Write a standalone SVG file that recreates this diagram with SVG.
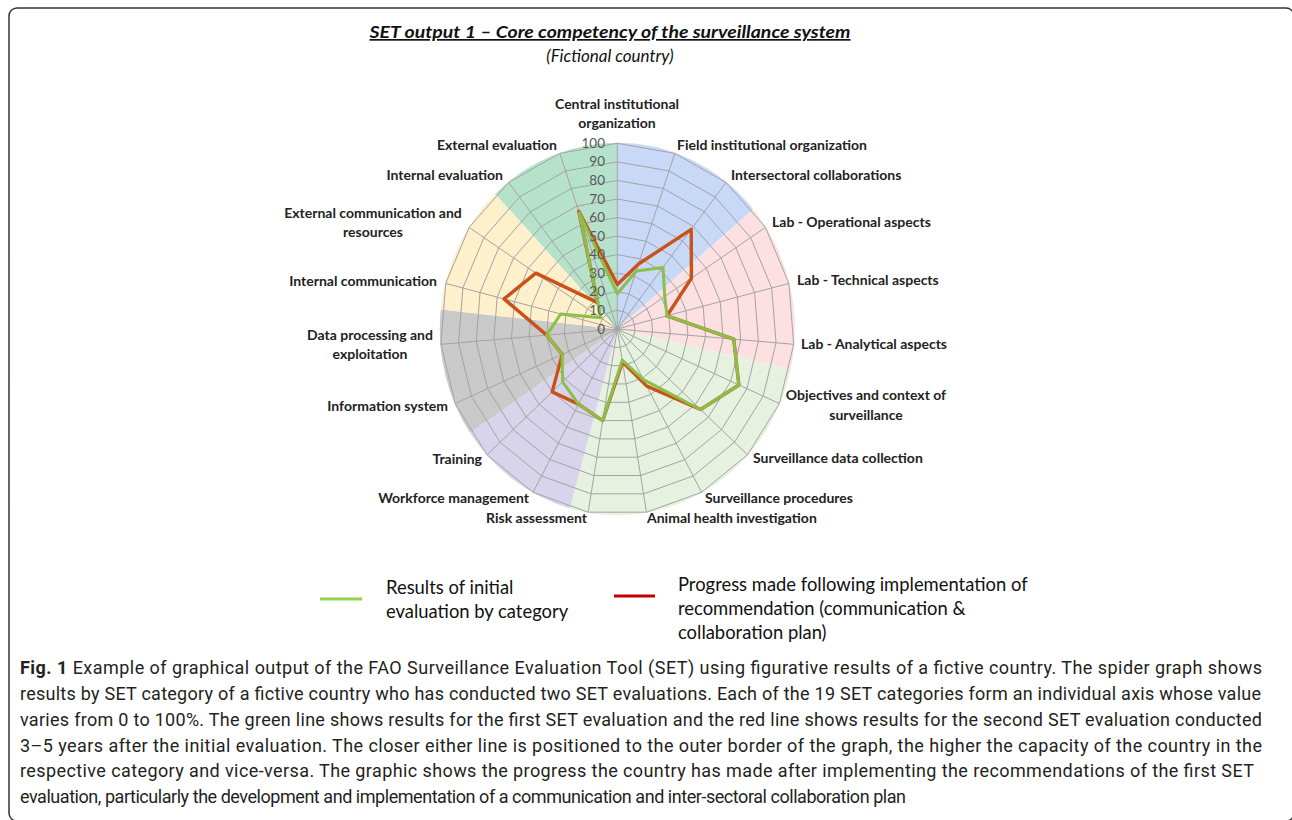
<svg xmlns="http://www.w3.org/2000/svg" width="1292" height="820" viewBox="0 0 1292 820">
<style>
.lbl{font-family:Lato,"Liberation Sans",sans-serif;font-weight:bold;font-size:14px;fill:#222}
.tick{font-family:Lato,"Liberation Sans",sans-serif;font-size:13.5px;fill:#595959;text-anchor:end}
.leg{font-family:Lato,"Liberation Sans",sans-serif;font-size:18.4px;fill:#111}
.cap{font-family:Roboto,"Liberation Sans",sans-serif;font-size:18px;fill:#231f20}
.ring{fill:none;stroke:#a3a3a3;stroke-width:1;vector-effect:non-scaling-stroke}
.grid{fill:none;stroke:#a3a3a3;stroke-width:1}
.ser{fill:none;stroke-linejoin:round;stroke-linecap:round}
</style>
<defs>
<polygon id="ring" class="ring" points="0,-185.7 57.47,-175.64 108.72,-146.54 148.18,-101.57 171.58,-45.59 176.39,15.34 162.09,74.6 130.2,125.8 84.24,163.31 29.13,183.17 -29.13,183.17 -84.24,163.31 -130.2,125.8 -162.09,74.6 -176.39,15.34 -171.58,-45.59 -148.18,-101.57 -108.72,-146.54 -57.47,-175.64"/>
</defs>
<rect x="9" y="8" width="1285" height="813" rx="8" fill="#fff" stroke="#333" stroke-width="1.5"/>
<g id="title">
<text x="610" y="38" text-anchor="middle" font-family="Lato,'Liberation Sans',sans-serif" font-weight="bold" font-style="italic" font-size="17" fill="#111" text-decoration="underline" textLength="481" lengthAdjust="spacingAndGlyphs">SET output 1 – Core competency of the surveillance system</text>
<text x="610" y="62" text-anchor="middle" font-family="Lato,'Liberation Sans',sans-serif" font-style="italic" font-size="17" fill="#111">(Fictional country)</text>
</g>
<g id="chart" transform="translate(617.3,329)">
<g id="sectors">
<path d="M0,0L-122.18,-135.06A177.5,186.2 0 0 1 0,-186.2Z" fill="#b6e2cc"/>
<path d="M0,0L0,-186.2A177.5,186.2 0 0 1 135.97,-119.69Z" fill="#c8d8f7"/>
<path d="M0,0L135.97,-119.69A177.5,186.2 0 0 1 173.29,40.3Z" fill="#fde0e1"/>
<path d="M0,0L173.29,40.3A177.5,186.2 0 0 1 -47.44,179.43Z" fill="#e6f2df"/>
<path d="M0,0L-47.44,179.43A177.5,186.2 0 0 1 -147.15,104.12Z" fill="#d8d4eb"/>
<path d="M0,0L-147.15,104.12A177.5,186.2 0 0 1 -176.53,-19.46Z" fill="#cacaca"/>
<path d="M0,0L-176.53,-19.46A177.5,186.2 0 0 1 -122.18,-135.06Z" fill="#fdf0cb"/>
</g>
<g id="gridlines">
<use href="#ring" transform="scale(0.1)"/>
<use href="#ring" transform="scale(0.2)"/>
<use href="#ring" transform="scale(0.3)"/>
<use href="#ring" transform="scale(0.4)"/>
<use href="#ring" transform="scale(0.5)"/>
<use href="#ring" transform="scale(0.6)"/>
<use href="#ring" transform="scale(0.7)"/>
<use href="#ring" transform="scale(0.8)"/>
<use href="#ring" transform="scale(0.9)"/>
<use href="#ring"/>
<path class="grid" d="M0,0L0,-185.7M0,0L57.47,-175.64M0,0L108.72,-146.54M0,0L148.18,-101.57M0,0L171.58,-45.59M0,0L176.39,15.34M0,0L162.09,74.6M0,0L130.2,125.8M0,0L84.24,163.31M0,0L29.13,183.17M0,0L-29.13,183.17M0,0L-84.24,163.31M0,0L-130.2,125.8M0,0L-162.09,74.6M0,0L-176.39,15.34M0,0L-171.58,-45.59M0,0L-148.18,-101.57M0,0L-108.72,-146.54M0,0L-57.47,-175.64"/>
</g>
<g id="series">
<polygon id="series-progress" class="ser" stroke="#c9521b" stroke-width="3.4" points="0,-44.57 21.26,-64.99 73.93,-99.65 74.09,-50.78 49.76,-13.22 116.42,10.12 121.57,55.95 83.33,80.51 29.49,57.16 5.24,32.97 -14.57,91.58 -38.75,75.13 -65.1,62.9 -55.11,25.36 -70.56,6.13 -113.25,-30.09 -81.5,-55.86 -19.57,-26.38 -38.51,-117.68"/>
<polygon id="series-initial" class="ser" stroke="#8cbf47" stroke-width="3" points="0,-35.28 18.97,-57.96 45.66,-61.55 47.42,-32.5 49.76,-13.22 116.42,10.12 121.57,55.95 83.33,80.51 26.12,50.63 4.95,31.14 -14.57,91.58 -38.75,75.13 -54.68,52.84 -55.11,25.36 -70.56,6.13 -56.62,-15.04 -16.3,-11.17 -19.57,-26.38 -37.93,-115.92"/>
</g>
</g>
<g id="ticks">
<text class="tick" x="605" y="333.5">0</text>
<text class="tick" x="605" y="314.9">10</text>
<text class="tick" x="605" y="296.4">20</text>
<text class="tick" x="605" y="277.8">30</text>
<text class="tick" x="605" y="259.2">40</text>
<text class="tick" x="605" y="240.7">50</text>
<text class="tick" x="605" y="222.1">60</text>
<text class="tick" x="605" y="203.5">70</text>
<text class="tick" x="605" y="184.9">80</text>
<text class="tick" x="605" y="166.4">90</text>
<text class="tick" x="605" y="147.8">100</text>
</g>
<g id="axis-labels">
<g id="lbl-central"><text class="lbl" x="617" y="109" text-anchor="middle">Central institutional</text><text class="lbl" x="617" y="128" text-anchor="middle">organization</text></g>
<g id="lbl-field"><text class="lbl" x="677" y="150">Field institutional organization</text></g>
<g id="lbl-intersectoral"><text class="lbl" x="731" y="180">Intersectoral collaborations</text></g>
<g id="lbl-lab-op"><text class="lbl" x="772" y="227">Lab - Operational aspects</text></g>
<g id="lbl-lab-tech"><text class="lbl" x="797" y="285">Lab - Technical aspects</text></g>
<g id="lbl-lab-anal"><text class="lbl" x="801" y="349">Lab - Analytical aspects</text></g>
<g id="lbl-objectives"><text class="lbl" x="866" y="400" text-anchor="middle">Objectives and context of</text><text class="lbl" x="866" y="420" text-anchor="middle">surveillance</text></g>
<g id="lbl-datacoll"><text class="lbl" x="753" y="463">Surveillance data collection</text></g>
<g id="lbl-procedures"><text class="lbl" x="705" y="503">Surveillance procedures</text></g>
<g id="lbl-animal"><text class="lbl" x="647" y="523">Animal health investigation</text></g>
<g id="lbl-risk"><text class="lbl" x="587" y="523" text-anchor="end">Risk assessment</text></g>
<g id="lbl-workforce"><text class="lbl" x="529" y="503" text-anchor="end">Workforce management</text></g>
<g id="lbl-training"><text class="lbl" x="482" y="464" text-anchor="end">Training</text></g>
<g id="lbl-infosys"><text class="lbl" x="448" y="411" text-anchor="end">Information system</text></g>
<g id="lbl-dataproc"><text class="lbl" x="370" y="340" text-anchor="middle">Data processing and</text><text class="lbl" x="370" y="359" text-anchor="middle">exploitation</text></g>
<g id="lbl-intcomm"><text class="lbl" x="437" y="286" text-anchor="end">Internal communication</text></g>
<g id="lbl-extcomm"><text class="lbl" x="373" y="218" text-anchor="middle">External communication and</text><text class="lbl" x="373" y="237" text-anchor="middle">resources</text></g>
<g id="lbl-inteval"><text class="lbl" x="503" y="180" text-anchor="end">Internal evaluation</text></g>
<g id="lbl-exteval"><text class="lbl" x="557" y="150" text-anchor="end">External evaluation</text></g>
</g>
<g id="legend">
<g id="legend-initial">
<line x1="320" y1="599" x2="362" y2="599" stroke="#92d050" stroke-width="3"/>
<text class="leg" x="386" y="594">Results of initial</text>
<text class="leg" x="386" y="618">evaluation by category</text>
</g>
<g id="legend-progress">
<line x1="614" y1="596" x2="655" y2="596" stroke="#c00000" stroke-width="3"/>
<text class="leg" x="678" y="591">Progress made following implementation of</text>
<text class="leg" x="678" y="615">recommendation (communication &amp;</text>
<text class="leg" x="678" y="639">collaboration plan)</text>
</g>
</g>
<g id="caption">
<text class="cap" x="20" y="674" textLength="1242" lengthAdjust="spacing"><tspan font-weight="bold">Fig. 1</tspan> Example of graphical output of the FAO Surveillance Evaluation Tool (SET) using figurative results of a fictive country. The spider graph shows</text>
<text class="cap" x="20" y="700" textLength="1241" lengthAdjust="spacing">results by SET category of a fictive country who has conducted two SET evaluations. Each of the 19 SET categories form an individual axis whose value</text>
<text class="cap" x="20" y="726" textLength="1242" lengthAdjust="spacing">varies from 0 to 100%. The green line shows results for the first SET evaluation and the red line shows results for the second SET evaluation conducted</text>
<text class="cap" x="20" y="752" textLength="1242" lengthAdjust="spacing">3–5 years after the initial evaluation. The closer either line is positioned to the outer border of the graph, the higher the capacity of the country in the</text>
<text class="cap" x="20" y="777" textLength="1234" lengthAdjust="spacing">respective category and vice-versa. The graphic shows the progress the country has made after implementing the recommendations of the first SET</text>
<text class="cap" x="20" y="803" textLength="886" lengthAdjust="spacing">evaluation, particularly the development and implementation of a communication and inter-sectoral collaboration plan</text>
</g>
</svg>
